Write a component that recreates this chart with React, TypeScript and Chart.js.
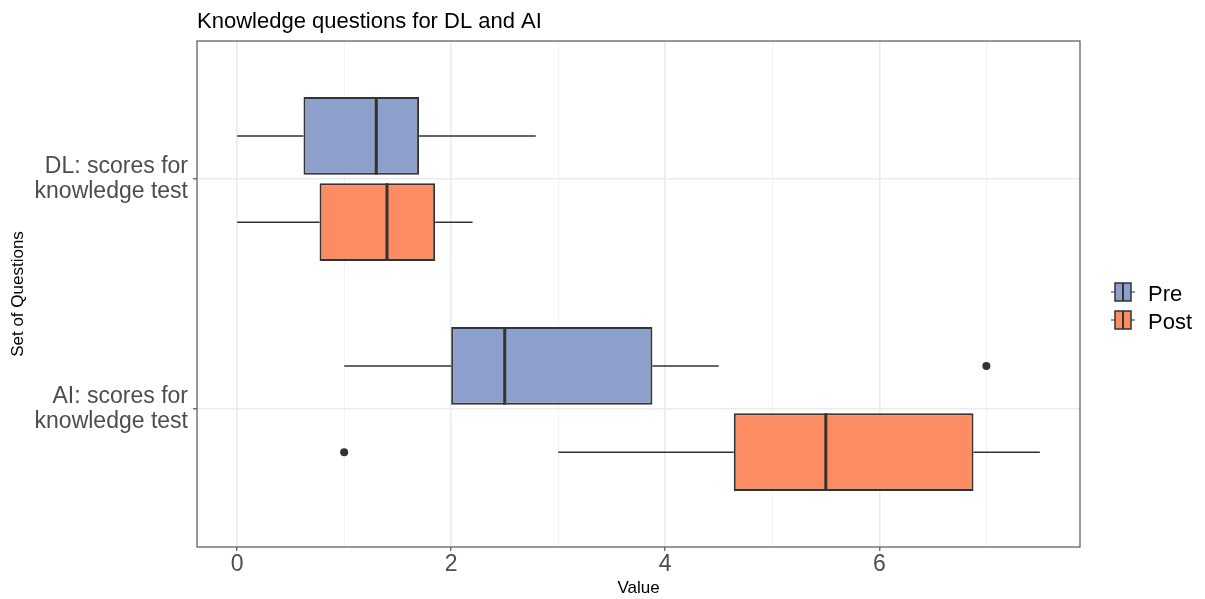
import React, { useEffect, useRef } from 'react';
import { Chart, registerables } from 'chart.js';

Chart.register(...registerables);

// ---- data ----
const categories: string[][] = [
  ['DL: scores for', 'knowledge test'],
  ['AI: scores for', 'knowledge test'],
];
const categoryPositions = [1, 2];
const groups = ['Pre', 'Post'];

const preMin = [0, 1.0];
const preQ1 = [0.62, 2.0];
const preMedian = [1.3, 2.5];
const preQ3 = [1.7, 3.88];
const preMax = [2.79, 4.5];
const preOutliers: number[][] = [[], [7.0]];

const postMin = [0, 3.0];
const postQ1 = [0.77, 4.64];
const postMedian = [1.4, 5.5];
const postQ3 = [1.85, 6.88];
const postMax = [2.2, 7.5];
const postOutliers: number[][] = [[], [1.0]];

const xTicks = [0, 1, 2, 3, 4, 5, 6, 7];
const xMajorTicks = [0, 2, 4, 6];

const titleText = 'Knowledge questions for DL and AI';
const xTitle = 'Value';
const yTitle = 'Set of Questions';

// ---- styles ----
const FONT = "'Liberation Sans', Arial, Helvetica, sans-serif";
const preColor = '#8DA0CB';
const postColor = '#FC8D62';
const lineColor = '#333333';
const DODGE = 0.75 / 4;

const stats = [
  { min: preMin, median: preMedian, max: preMax },
  { min: postMin, median: postMedian, max: postMax },
];

const boxPlugin = {
  id: 'boxParts',
  beforeDatasetsDraw(chart: any) {
    const ctx = chart.ctx;
    const xs = chart.scales.x;
    ctx.save();
    ctx.strokeStyle = lineColor;
    ctx.lineWidth = 1.5;
    stats.forEach((s, di) => {
      const meta = chart.getDatasetMeta(di);
      meta.data.forEach((el: any, j: number) => {
        const y = el.y;
        const q1 = chart.data.datasets[di].data[j].x[0];
        const q3 = chart.data.datasets[di].data[j].x[1];
        ctx.beginPath();
        ctx.moveTo(xs.getPixelForValue(s.min[j]), y);
        ctx.lineTo(xs.getPixelForValue(q1), y);
        ctx.moveTo(xs.getPixelForValue(q3), y);
        ctx.lineTo(xs.getPixelForValue(s.max[j]), y);
        ctx.stroke();
      });
    });
    ctx.restore();
  },
  afterDatasetsDraw(chart: any) {
    const ctx = chart.ctx;
    const xs = chart.scales.x;
    ctx.save();
    ctx.strokeStyle = lineColor;
    ctx.lineWidth = 3;
    stats.forEach((s, di) => {
      const meta = chart.getDatasetMeta(di);
      meta.data.forEach((el: any, j: number) => {
        const px = xs.getPixelForValue(s.median[j]);
        ctx.beginPath();
        ctx.moveTo(px, el.y - el.height / 2);
        ctx.lineTo(px, el.y + el.height / 2);
        ctx.stroke();
      });
    });
    ctx.restore();
  },
  afterDraw(chart: any) {
    const ctx = chart.ctx;
    const a = chart.chartArea;
    ctx.save();
    // panel border
    ctx.strokeStyle = '#555555';
    ctx.lineWidth = 1.2;
    ctx.strokeRect(a.left, a.top, a.right - a.left, a.bottom - a.top);
    // title
    ctx.fillStyle = '#000000';
    ctx.font = `22px ${FONT}`;
    ctx.textAlign = 'left';
    ctx.textBaseline = 'alphabetic';
    ctx.fillText(titleText, a.left, 28);
    // legend
    const colors = [preColor, postColor];
    const centers = [292, 320];
    groups.forEach((g, i) => {
      const cy = centers[i];
      const bx = 1115, bw = 16, bh = 18;
      ctx.strokeStyle = lineColor;
      ctx.lineWidth = 1.2;
      ctx.beginPath();
      ctx.moveTo(1111, cy);
      ctx.lineTo(bx, cy);
      ctx.moveTo(bx + bw, cy);
      ctx.lineTo(1135, cy);
      ctx.stroke();
      ctx.fillStyle = colors[i];
      ctx.fillRect(bx, cy - bh / 2, bw, bh);
      ctx.lineWidth = 1.5;
      ctx.strokeRect(bx, cy - bh / 2, bw, bh);
      ctx.lineWidth = 2;
      ctx.beginPath();
      ctx.moveTo(bx + bw / 2, cy - bh / 2);
      ctx.lineTo(bx + bw / 2, cy + bh / 2);
      ctx.stroke();
      ctx.fillStyle = '#000000';
      ctx.font = `22px ${FONT}`;
      ctx.textBaseline = 'alphabetic';
      ctx.fillText(g, 1148, cy + 8.5);
    });
    ctx.restore();
  },
};

export default function App() {
  const ref = useRef<HTMLCanvasElement | null>(null);

  useEffect(() => {
    if (!ref.current) return;
    const outlierPoints = (arr: number[][], offset: number) =>
      arr.flatMap((vals, j) => vals.map((v) => ({ x: v, y: categoryPositions[j] + offset })));

    const chart = new Chart(ref.current, {
      type: 'bar',
      data: {
        datasets: [
          {
            type: 'bar',
            label: groups[0],
            indexAxis: 'y',
            data: categoryPositions.map((p, j) => ({ x: [preQ1[j], preQ3[j]], y: p })),
            backgroundColor: preColor,
            borderColor: lineColor,
            borderWidth: 2,
            borderSkipped: false,
            categoryPercentage: 0.75,
            barPercentage: 0.9,
          } as any,
          {
            type: 'bar',
            label: groups[1],
            indexAxis: 'y',
            data: categoryPositions.map((p, j) => ({ x: [postQ1[j], postQ3[j]], y: p })),
            backgroundColor: postColor,
            borderColor: lineColor,
            borderWidth: 2,
            borderSkipped: false,
            categoryPercentage: 0.75,
            barPercentage: 0.9,
          } as any,
          {
            type: 'scatter',
            label: 'Pre outliers',
            data: outlierPoints(preOutliers, -DODGE),
            backgroundColor: lineColor,
            borderWidth: 0,
            pointRadius: 4,
          } as any,
          {
            type: 'scatter',
            label: 'Post outliers',
            data: outlierPoints(postOutliers, DODGE),
            backgroundColor: lineColor,
            borderWidth: 0,
            pointRadius: 4,
          } as any,
        ],
      },
      options: {
        animation: false,
        responsive: true,
        maintainAspectRatio: false,
        layout: { padding: { top: 41, right: 125, bottom: 0, left: 0 } },
        plugins: {
          legend: { display: false },
          tooltip: { enabled: false },
          title: { display: false },
        },
        scales: {
          x: {
            type: 'linear',
            axis: 'x',
            position: 'bottom',
            offset: false,
            min: -0.375,
            max: 7.875,
            afterBuildTicks: (scale: any) => {
              scale.ticks = xTicks.map((v) => ({ value: v }));
            },
            afterFit: (scale: any) => {
              scale.height = 52;
            },
            border: { display: false },
            grid: {
              offset: false,
              color: (c: any) => (xMajorTicks.includes(c.tick?.value) ? '#EBEBEB' : '#F3F3F3'),
              lineWidth: (c: any) => (xMajorTicks.includes(c.tick?.value) ? 1.6 : 1),
              tickColor: (c: any) => (xMajorTicks.includes(c.tick?.value) ? lineColor : 'rgba(0,0,0,0)'),
              tickLength: 4,
              tickWidth: 1,
            },
            ticks: {
              autoSkip: false,
              maxRotation: 0,
              padding: 0,
              color: '#4D4D4D',
              font: { family: FONT, size: 23, lineHeight: 1.2 },
              callback: (v: any) => (xMajorTicks.includes(v) ? String(v) : ''),
            },
            title: {
              display: true,
              text: xTitle,
              color: '#000000',
              font: { family: FONT, size: 17, lineHeight: 1.2 },
              padding: { top: 0, bottom: 0 },
            },
          },
          y: {
            type: 'linear',
            axis: 'y',
            position: 'left',
            offset: false,
            min: 0.4,
            max: 2.6,
            reverse: true,
            afterBuildTicks: (scale: any) => {
              scale.ticks = categoryPositions.map((v) => ({ value: v }));
            },
            afterFit: (scale: any) => {
              scale.width = 197;
            },
            border: { display: false },
            grid: {
              offset: false,
              color: '#EBEBEB',
              lineWidth: 1.6,
              tickColor: lineColor,
              tickLength: 4,
              tickWidth: 1,
            },
            ticks: {
              autoSkip: false,
              padding: 5,
              color: '#4D4D4D',
              font: { family: FONT, size: 23, lineHeight: 1.1 },
              callback: (_v: any, i: number) => categories[i],
            },
            title: {
              display: true,
              text: yTitle,
              color: '#000000',
              font: { family: FONT, size: 17, lineHeight: 1.2 },
              padding: { top: 8, bottom: 0 },
            },
          },
        },
      } as any,
      plugins: [boxPlugin],
    });
    return () => chart.destroy();
  }, []);

  return (
    <div style={{ position: 'absolute', left: 0, top: 0, width: 1205, height: 599, background: '#ffffff' }}>
      <canvas ref={ref} />
    </div>
  );
}
